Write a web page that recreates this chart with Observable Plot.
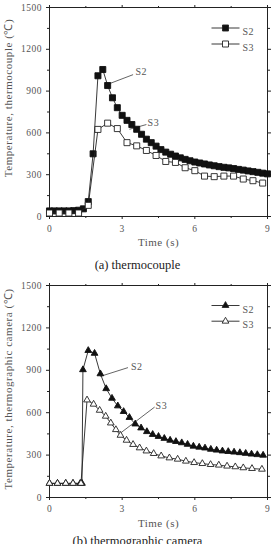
<!DOCTYPE html>
<html><head><meta charset="utf-8">
<script src="https://cdn.jsdelivr.net/npm/d3@7"></script>
<script src="https://cdn.jsdelivr.net/npm/@observablehq/plot@0.6"></script>
<style>
html,body{margin:0;padding:0;background:#fff;}
body{width:275px;height:544px;overflow:hidden;position:relative;}
#a{position:absolute;left:0;top:0;}
#b{position:absolute;left:0;top:275px;}
.cap{position:absolute;left:0;width:275px;text-align:center;font-family:"Liberation Serif",serif;font-size:12.5px;color:#222;line-height:14px;}
#capA{top:258px;}
#capB{top:534px;}
.ylab{position:absolute;left:8px;width:0;height:0;}
.ylab span{position:absolute;left:0;top:0;transform:translate(-50%,-50%) rotate(-90deg);white-space:nowrap;font-family:"Liberation Serif",serif;font-size:11px;letter-spacing:0.55px;color:#555;line-height:12px;}
#ylabA{top:97.5px;}
#ylabB{top:389px;}
svg text{letter-spacing:0.5px;}
</style>
</head><body>
<div id="a"></div>
<div class="cap" id="capA">(a) thermocouple</div>
<div id="b"></div>
<div class="cap" id="capB">(b) thermographic camera</div>
<div class="ylab" id="ylabA"><span></span></div>
<div class="ylab" id="ylabB"><span></span></div>
<script>
// ---- tick values ----
const xMajor = [0, 3, 6, 9];
const xMinor = [1.5, 4.5, 7.5];
const yMajor = [0, 300, 600, 900, 1200, 1500];
const yMinor = [150, 450, 750, 1050, 1350];
const seriesNames = ["S2", "S3"];
const xLabel = "Time (s)";
const yLabelA = "Temperature, thermocouple (℃)";
const yLabelB = "Temperature, thermographic camera (℃)";

// ---- (a) thermocouple ----
const tcTimeS2 = [0,0.2,0.4,0.6,0.8,1.0,1.2,1.4,1.6,1.8,2.0,2.2,2.4,2.6,2.8,3.0,3.2,3.4,3.6,3.8,4.0,4.2,4.4,4.6,4.8,5.0,5.2,5.4,5.6,5.8,6.0,6.2,6.4,6.6,6.8,7.0,7.2,7.4,7.6,7.8,8.0,8.2,8.4,8.6,8.8,9.0];
const tcS2 = [40,40,40,40,40,42,45,55,107,450,1010,1055,940,852,781,726,690,660,626,590,555,530,505,480,462,447,434,421,410,400,391,384,377,370,364,358,353,349,344,338,333,327,322,317,311,306];
const tcTimeS3 = [0,0.4,0.8,1.2,1.6,2.0,2.4,2.8,3.2,3.6,4.0,4.4,4.8,5.2,5.6,6.0,6.4,6.8,7.2,7.6,8.0,8.4,8.8];
const tcS3 = [25,25,25,25,80,625,670,631,530,507,474,438,395,388,350,329,290,286,290,290,269,257,240];

// ---- (b) thermographic camera ----
const camTimeS2 = [0,0.33,0.67,0.97,1.27,1.34,1.38,1.6,1.86,2.1,2.34,2.58,2.82,3.06,3.3,3.54,3.78,4.02,4.26,4.5,4.74,4.98,5.22,5.46,5.7,5.94,6.18,6.42,6.66,6.9,7.14,7.38,7.62,7.86,8.1,8.34,8.58,8.82];
const camS2 = [100,100,100,100,100,100,904,1040,1020,875,770,702,648,608,566,520,492,466,446,432,418,405,396,387,376,363,356,350,341,335,329,325,321,317,312,307,303,299];
const camTimeS3 = [0,0.33,0.67,0.97,1.3,1.55,1.82,2.07,2.32,2.53,2.74,2.93,3.18,3.45,3.72,4.0,4.3,4.61,4.95,5.29,5.63,5.97,6.31,6.65,6.99,7.33,7.67,8.0,8.36,8.77];
const camS3 = [100,100,100,100,100,690,660,617,575,527,480,440,405,375,351,329,311,294,280,271,257,247,240,233,229,222,217,210,205,200];

// ---- annotation anchors (series label with leader) ----
const tcNotes = [
  {name:"S2", t1:2.5, v1:955, t2:3.45, v2:1018, tt:3.55, tv:1036},
  {name:"S3", t1:3.3, v1:626, t2:4.0, v2:660, tt:4.05, tv:674}
];
const camNotes = [
  {name:"S2", t1:2.1, v1:857, t2:3.24, v2:919, tt:3.36, tv:928},
  {name:"S3", t1:2.9, v1:452, t2:4.34, v2:640, tt:4.38, tv:648}
];

document.querySelector("#ylabA span").textContent = yLabelA;
document.querySelector("#ylabB span").textContent = yLabelB;

const zip = (ts, vs) => ts.map((t, i) => ({t, v: vs[i]}));
const dash = {draw(ctx) { ctx.moveTo(-14, 0); ctx.lineTo(14, 0); }};
const INK = "#222", GREY = "#555";
const LBL = "Liberation Serif";

function panel({s2, s3, symbol, r, height, marginTop, marginBottom, notes, legendDy, tickPad}) {
  const legend = [];
  seriesNames.forEach((name, i) => {
    const filled = i === 0;
    legend.push(Plot.dot([name], {frameAnchor:"top-right", dx:-42, dy:legendDy[i], symbol:dash, r:5, stroke:INK, strokeWidth:0.9}));
    legend.push(Plot.dot([name], {frameAnchor:"top-right", dx:-42, dy:legendDy[i], symbol, r, fill: filled ? "#111" : "#fff", stroke:INK, strokeWidth:0.9}));
    legend.push(Plot.text([name], {frameAnchor:"top-right", dx:-25, dy:legendDy[i], text:d=>d, textAnchor:"start", fill:GREY, fontSize:10, fontFamily:LBL}));
  });
  return Plot.plot({
    width:275, height, marginLeft:49, marginRight:8, marginTop, marginBottom,
    x:{domain:[0,9]}, y:{domain:[0,1500]},
    style:{background:"#fff", overflow:"visible", fontFamily:LBL},
    marks:[
      Plot.axisX({anchor:"bottom", ticks:xMajor, tickSize:3, tickPadding:tickPad, tickFormat:d=>String(d), label:null, fontSize:9.5, fontFamily:LBL, color:GREY, stroke:INK}),
      Plot.axisX({anchor:"bottom", ticks:xMinor, tickSize:2, tickFormat:()=>"", label:null, stroke:INK}),
      Plot.axisX({anchor:"top", ticks:xMajor, tickSize:3, tickFormat:()=>"", label:null, stroke:INK}),
      Plot.axisX({anchor:"top", ticks:xMinor, tickSize:2, tickFormat:()=>"", label:null, stroke:INK}),
      Plot.axisY({anchor:"left", ticks:yMajor, tickSize:3, tickPadding:4.5, tickFormat:d=>String(d), label:null, fontSize:9.5, fontFamily:LBL, color:GREY, stroke:INK}),
      Plot.axisY({anchor:"left", ticks:yMinor, tickSize:2, tickFormat:()=>"", label:null, stroke:INK}),
      Plot.axisY({anchor:"right", ticks:yMajor, tickSize:3, tickFormat:()=>"", label:null, stroke:INK}),
      Plot.axisY({anchor:"right", ticks:yMinor, tickSize:2, tickFormat:()=>"", label:null, stroke:INK}),
      Plot.frame({stroke:INK, strokeWidth:1}),
      Plot.text([xLabel], {frameAnchor:"bottom", dy:29, text:d=>d, fill:GREY, fontSize:11, fontFamily:LBL}),
      Plot.link(notes, {x1:"t1", y1:"v1", x2:"t2", y2:"v2", stroke:INK, strokeWidth:0.7}),
      Plot.text(notes, {x:"tt", y:"tv", text:"name", textAnchor:"start", fill:GREY, fontSize:10, fontFamily:LBL}),
      Plot.line(s2, {x:"t", y:"v", stroke:INK, strokeWidth:0.9}),
      Plot.dot(s2, {x:"t", y:"v", symbol, r, fill:"#111", stroke:"#111", strokeWidth:0.9}),
      Plot.line(s3, {x:"t", y:"v", stroke:INK, strokeWidth:0.9}),
      Plot.dot(s3, {x:"t", y:"v", symbol, r, fill:"#fff", stroke:INK, strokeWidth:0.9}),
      ...legend
    ]
  });
}

document.getElementById("a").append(panel({
  s2: zip(tcTimeS2, tcS2), s3: zip(tcTimeS3, tcS3), symbol:"square", r:3.4,
  height:250, marginTop:7, marginBottom:34, notes: tcNotes, legendDy:[20.5, 36.5], tickPad:5.5
}));
document.getElementById("b").append(panel({
  s2: zip(camTimeS2, camS2), s3: zip(camTimeS3, camS3), symbol:"triangle", r:2.5,
  height:262, marginTop:10, marginBottom:40, notes: camNotes, legendDy:[20, 35.7], tickPad:5
}));
</script>
</body></html>
